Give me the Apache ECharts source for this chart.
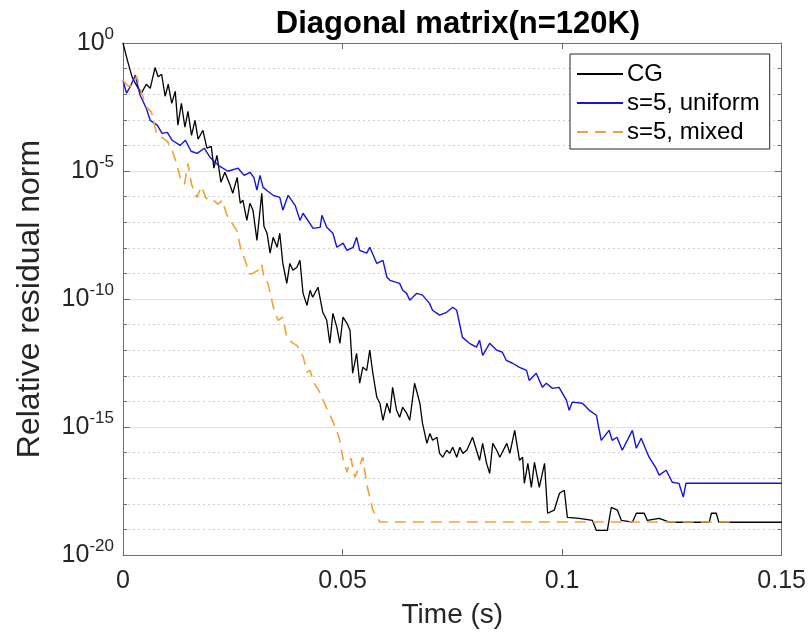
<!DOCTYPE html>
<html>
<head>
<meta charset="utf-8">
<script src="https://cdn.jsdelivr.net/npm/echarts@6/dist/echarts.min.js"></script>
<style>
html,body{margin:0;padding:0;background:#fff;}
#chart{width:809px;height:634px;}
</style>
</head>
<body>
<div id="chart"></div>
<script>
// ---- Data (time in seconds, residual stored as log10 of the relative residual norm) ----
const xTicks = [0, 0.05, 0.1, 0.15];
const yTickExponents = [-20, -15, -10, -5, 0];

const cgTime = [0,0.0010,0.0021,0.0033,0.0042,0.0053,0.0062,0.0073,0.0080,0.0088,0.0096,0.0103,0.0111,0.0119,0.0125,0.0133,0.0141,0.0148,0.0156,0.0164,0.0171,0.0182,0.0191,0.0201,0.0207,0.0214,0.0223,0.0232,0.0244,0.0250,0.0260,0.0267,0.0273,0.0282,0.0289,0.0296,0.0305,0.0316,0.0321,0.0328,0.0335,0.0342,0.0351,0.0357,0.0364,0.0373,0.0380,0.0387,0.0396,0.0403,0.0410,0.0419,0.0426,0.0432,0.0444,0.0455,0.0464,0.0471,0.0478,0.0487,0.0494,0.0501,0.0510,0.0517,0.0523,0.0532,0.0539,0.0546,0.0555,0.0562,0.0569,0.0578,0.0585,0.0592,0.0601,0.0608,0.0614,0.0623,0.0630,0.0637,0.0646,0.0653,0.0664,0.0676,0.0682,0.0692,0.0699,0.0705,0.0715,0.0721,0.0728,0.0737,0.0744,0.0751,0.0760,0.0767,0.0774,0.0783,0.0796,0.0805,0.0812,0.0819,0.0828,0.0835,0.0842,0.0851,0.0858,0.0874,0.0881,0.0892,0.0903,0.0910,0.0914,0.0922,0.0930,0.0937,0.0948,0.0960,0.0967,0.0982,0.0994,0.1005,0.1012,0.1039,0.1069,0.1078,0.1103,0.1112,0.1126,0.1135,0.1160,0.1169,0.1187,0.1194,0.1221,0.1244,0.1335,0.1340,0.1351,0.1357,0.15];
const cgLog10Res = [0,-0.68,-1.34,-1.73,-1.96,-1.61,-1.77,-0.96,-1.32,-1.22,-2.08,-1.61,-2.36,-1.89,-3.21,-2.36,-3.29,-2.67,-3.61,-3.02,-3.76,-3.41,-4.11,-4.04,-4.89,-4.39,-5.44,-5.05,-5.56,-5.87,-5.25,-6.26,-6.14,-6.93,-6.26,-6.53,-7.71,-5.87,-7.16,-7.43,-8.21,-7.59,-7.98,-7.43,-8.61,-9.39,-8.61,-8.88,-8.76,-8.49,-9.78,-10.25,-9.66,-9.93,-9.54,-10.52,-10.83,-11.73,-10.56,-11.11,-11.73,-10.71,-10.95,-11.22,-12.90,-12.12,-13.29,-12.67,-12.79,-12.00,-12.90,-13.84,-14.07,-14.74,-14.07,-14.46,-13.45,-14.35,-14.62,-14.23,-14.46,-14.74,-13.29,-14.07,-14.85,-15.64,-15.25,-15.52,-15.40,-16.03,-16.18,-15.91,-16.03,-15.79,-16.18,-15.79,-16.03,-15.91,-15.40,-15.91,-16.30,-15.64,-16.42,-16.81,-15.64,-15.91,-16.18,-15.64,-16.03,-15.13,-16.30,-16.18,-17.20,-16.42,-17.36,-16.38,-17.36,-16.42,-18.37,-18.25,-17.59,-17.47,-18.53,-18.57,-18.65,-19.04,-19.04,-18.14,-18.25,-18.65,-18.72,-18.37,-18.37,-18.65,-18.57,-18.72,-18.72,-18.37,-18.37,-18.72,-18.72];

const uniformTime = [0,0.0008,0.0017,0.0028,0.0039,0.0053,0.0062,0.0078,0.0089,0.0101,0.0112,0.0130,0.0142,0.0155,0.0169,0.0185,0.0198,0.0217,0.0239,0.0262,0.0276,0.0289,0.0298,0.0305,0.0312,0.0319,0.0330,0.0342,0.0357,0.0364,0.0376,0.0392,0.0403,0.0410,0.0433,0.0449,0.0453,0.0464,0.0478,0.0487,0.0501,0.0510,0.0524,0.0532,0.0539,0.0555,0.0562,0.0578,0.0592,0.0601,0.0608,0.0630,0.0637,0.0646,0.0653,0.0669,0.0682,0.0698,0.0705,0.0721,0.0737,0.0751,0.0760,0.0773,0.0789,0.0805,0.0812,0.0819,0.0835,0.0851,0.0864,0.0873,0.0887,0.0903,0.0919,0.0925,0.0941,0.0955,0.0964,0.0978,0.0993,0.1010,0.1016,0.1023,0.1046,0.1062,0.1078,0.1089,0.1107,0.1114,0.1125,0.1137,0.1160,0.1169,0.1180,0.1198,0.1214,0.1221,0.1237,0.1251,0.1266,0.1276,0.1282,0.15];
const uniformLog10Res = [-1.46,-1.96,-1.69,-1.26,-2.04,-2.55,-3.02,-3.21,-3.53,-3.49,-3.80,-4.00,-3.80,-4.23,-4.31,-4.11,-4.46,-4.78,-5.01,-4.89,-5.17,-5.05,-5.25,-5.75,-5.17,-5.64,-5.79,-5.95,-6.03,-6.53,-5.95,-6.34,-6.93,-6.65,-7.24,-7.20,-6.73,-7.20,-7.43,-7.98,-7.82,-8.10,-7.98,-7.59,-8.10,-8.21,-7.98,-8.61,-8.49,-9.15,-9.27,-9.39,-9.66,-9.78,-10.05,-9.78,-9.85,-10.17,-10.44,-10.63,-10.52,-10.32,-10.44,-11.50,-11.73,-11.88,-11.61,-12.20,-11.73,-12.00,-12.08,-12.40,-12.51,-12.67,-12.79,-13.18,-12.90,-13.45,-13.29,-13.49,-13.45,-13.96,-14.35,-14.03,-14.07,-14.35,-14.54,-15.52,-15.13,-15.52,-15.40,-15.91,-15.13,-15.83,-15.44,-16.18,-16.61,-16.88,-16.69,-17.16,-17.20,-17.74,-17.20,-17.20];

const mixedTime = [0,0.0012,0.0023,0.0031,0.0043,0.0054,0.0065,0.0077,0.0088,0.0101,0.0112,0.0122,0.0130,0.0140,0.0148,0.0156,0.0168,0.0179,0.0189,0.0201,0.0217,0.0226,0.0235,0.0244,0.0259,0.0269,0.0278,0.0289,0.0296,0.0308,0.0316,0.0321,0.0330,0.0339,0.0344,0.0353,0.0364,0.0373,0.0387,0.0396,0.0410,0.0419,0.0426,0.0435,0.0448,0.0464,0.0478,0.0492,0.0501,0.0510,0.0519,0.0528,0.0537,0.0546,0.0555,0.0569,0.0585,0.1392];
const mixedLog10Res = [-1.46,-1.69,-1.65,-1.30,-2.00,-2.51,-2.71,-3.57,-3.68,-3.84,-4.19,-4.70,-5.25,-5.52,-4.70,-5.52,-6.03,-5.60,-6.07,-6.07,-6.30,-6.14,-6.65,-6.93,-7.32,-8.10,-8.49,-9.03,-8.99,-8.88,-8.64,-9.19,-9.39,-10.05,-10.44,-10.83,-10.71,-11.50,-11.73,-11.81,-12.24,-12.86,-12.79,-13.29,-13.64,-14.27,-14.78,-15.40,-16.22,-16.77,-16.22,-16.97,-16.61,-16.18,-17.24,-18.25,-18.71,-18.71];

const seriesNames = ['CG', 's=5, uniform', 's=5, mixed'];
const titleText = 'Diagonal matrix(n=120K)';
const xName = 'Time (s)';
const yName = 'Relative residual norm';

function pairs(xs, ys) { return xs.map((x, i) => [x, ys[i]]); }

const FONT = '"Liberation Sans", Arial, Helvetica, sans-serif';
const AX = '#6e6e6e';
const TXT = '#262626';

const chart = echarts.init(document.getElementById('chart'), null, {renderer: 'canvas'});
chart.setOption({
  animation: false,
  backgroundColor: '#ffffff',
  textStyle: {fontFamily: FONT},
  title: {
    text: titleText,
    left: 453, top: 4, textAlign: 'center',
    textStyle: {fontFamily: FONT, fontSize: 31, fontWeight: 'bold', color: '#000'}
  },
  legend: {
    data: seriesNames,
    orient: 'vertical',
    left: 570, top: 54,
    padding: [8, 10, 5, 6],
    itemGap: 5,
    itemWidth: 46, itemHeight: 24,
    backgroundColor: '#ffffff',
    borderColor: '#262626', borderWidth: 1,
    itemStyle: {opacity: 0},
    textStyle: {fontFamily: FONT, fontSize: 24, color: '#000', padding: [0,0,0,-1]}
  },
  grid: {left: 123, right: 26, top: 43, bottom: 79, containLabel: false},
  xAxis: [{
    type: 'value', min: xTicks[0], max: xTicks[xTicks.length - 1], interval: 0.05,
    name: xName, nameLocation: 'middle', nameGap: 46,
    nameTextStyle: {fontFamily: FONT, fontSize: 28, color: TXT},
    axisLine: {show: true, onZero: false, lineStyle: {color: AX, width: 1}},
    axisTick: {show: true, inside: true, length: 6, lineStyle: {color: AX}},
    axisLabel: {fontFamily: FONT, fontSize: 25, color: TXT, margin: 14,
      formatter: v => String(+v.toFixed(4))},
    splitLine: {show: false}
  }, {
    type: 'value', position: 'top', min: xTicks[0], max: xTicks[xTicks.length - 1], interval: 0.05,
    axisLine: {show: true, onZero: false, lineStyle: {color: AX, width: 1}},
    axisTick: {show: true, inside: true, length: 6, lineStyle: {color: AX}},
    axisLabel: {show: false}, splitLine: {show: false}
  }],
  yAxis: [{
    type: 'value', min: yTickExponents[0], max: yTickExponents[yTickExponents.length - 1], interval: 5,
    name: yName, nameLocation: 'middle', nameGap: 77, nameRotate: 90,
    nameTextStyle: {fontFamily: FONT, fontSize: 32, color: TXT},
    axisLine: {show: true, onZero: false, lineStyle: {color: AX, width: 1}},
    axisTick: {show: true, inside: true, length: 7, lineStyle: {color: AX}},
    minorTick: {show: true, splitNumber: 5, length: 4, lineStyle: {color: AX}},
    axisLabel: {
      margin: 9,
      formatter: v => '{b|10}{s|' + v + '}',
      rich: {
        b: {fontFamily: FONT, fontSize: 25, color: TXT, lineHeight: 34},
        s: {fontFamily: FONT, fontSize: 17, color: TXT, lineHeight: 16, verticalAlign: 'top'}
      }
    },
    splitLine: {show: true, lineStyle: {color: '#e3e3e3', width: 1}},
    minorSplitLine: {show: true, lineStyle: {color: '#cfcfcf', width: 1, type: [2, 3]}}
  }, {
    type: 'value', position: 'right', min: yTickExponents[0], max: yTickExponents[yTickExponents.length - 1], interval: 5,
    axisLine: {show: true, onZero: false, lineStyle: {color: AX, width: 1}},
    axisTick: {show: true, inside: true, length: 7, lineStyle: {color: AX}},
    minorTick: {show: true, splitNumber: 5, length: 4, lineStyle: {color: AX}},
    axisLabel: {show: false}, splitLine: {show: false}
  }],
  series: [{
    name: seriesNames[0], type: 'line', data: pairs(cgTime, cgLog10Res),
    symbol: 'none', lineStyle: {color: '#000000', width: 1.3}, itemStyle: {color: '#000000'}, z: 3
  }, {
    name: seriesNames[1], type: 'line', data: pairs(uniformTime, uniformLog10Res),
    symbol: 'none', lineStyle: {color: '#1414dc', width: 1.4}, itemStyle: {color: '#1414dc'}, z: 4
  }, {
    name: seriesNames[2], type: 'line', data: pairs(mixedTime, mixedLog10Res),
    symbol: 'none', lineStyle: {color: '#eda23a', width: 1.6, type: [11, 7]}, itemStyle: {color: '#eda23a'}, z: 5
  }]
});
</script>
</body>
</html>
